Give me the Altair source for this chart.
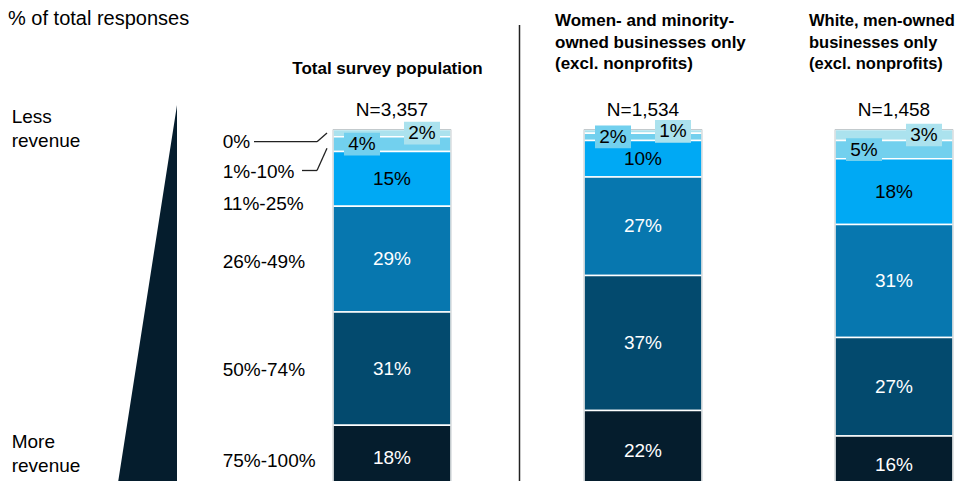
import altair as alt
import pandas as pd

# ---- data ----
categories = ["0%", "1%-10%", "11%-25%", "26%-49%", "50%-74%", "75%-100%"]
groups = ["Total survey population", "Women- and minority-owned", "White, men-owned"]
sample_sizes = ["N=3,357", "N=1,534", "N=1,458"]
total_vals = [2, 4, 15, 29, 31, 18]
women_minority_vals = [1, 2, 10, 27, 37, 22]
white_men_vals = [3, 5, 18, 31, 27, 16]

# ---- styles ----
colors = ["#abe2ee", "#72d0ee", "#00a9f4", "#0777af", "#034a6e", "#051d2d"]
FONT = "Liberation Sans"
DARK = "#051d2d"

rows = []
for g, vals in zip(groups, [total_vals, women_minority_vals, white_men_vals]):
    cum = 0
    for i, (c, v) in enumerate(zip(categories, vals)):
        rows.append({"group": g, "category": c, "idx": i, "value": v,
                     "start": cum, "end": cum + v, "mid": cum + v / 2,
                     "label": f"{v}%",
                     "textcol": "black" if i <= 2 else "white"})
        cum += v
df = pd.DataFrame(rows)
tot = pd.DataFrame({"group": groups, "n": sample_sizes, "zero": 0,
                    "total": [sum(total_vals), sum(women_minority_vals), sum(white_men_vals)]})

W, H = 948, 473
xs = alt.Scale(domain=groups, range=[325, 945], paddingInner=0.5299, paddingOuter=0)
ys = alt.Scale(domain=[-33.29, 96.30], reverse=True)
cs = alt.Scale(domain=categories, range=colors)
X = alt.X("group:N", scale=xs, axis=None)

one = pd.DataFrame({"a": [0]})

def txt(text, x, y, size=19, weight="normal", align="left", baseline="alphabetic", lh=None, color="black"):
    kw = dict(text=text, font=FONT, fontSize=size, fontWeight=weight, align=align,
              baseline=baseline, color=color)
    if lh:
        kw["lineHeight"] = lh
    return alt.Chart(one).mark_text(**kw).encode(x=alt.value(x), y=alt.value(y))

def rule(x1, y1, x2, y2, color="#222222", w=1.3):
    return alt.Chart(one).mark_rule(color=color, strokeWidth=w).encode(
        x=alt.value(x1), x2=alt.value(x2), y=alt.value(y1), y2=alt.value(y2))

# wedge
wedge = alt.Chart(one).mark_point(
    shape="M0.15625,-1L0.15625,1L-0.15625,1Z", size=147456, filled=True,
    fill=DARK, opacity=1, strokeWidth=0).encode(x=alt.value(139), y=alt.value(289))

divider = rule(511.5, 17, 511.5, 481, color="#222222", w=1.5)

bars = alt.Chart(df).mark_bar(stroke="white", strokeWidth=1.5).encode(
    x=X,
    y=alt.Y("start:Q", scale=ys, axis=None),
    y2="end:Q",
    color=alt.Color("category:N", scale=cs, legend=None),
)

outline = alt.Chart(tot).mark_bar(fillOpacity=0, stroke="#c3cacd", strokeWidth=1).encode(
    x=X, y=alt.Y("zero:Q", scale=ys, axis=None), y2="total:Q")

big = df[df.idx >= 2]
big_labels = alt.Chart(big).mark_text(font=FONT, fontSize=19, baseline="middle").encode(
    x=X, y=alt.Y("mid:Q", scale=ys, axis=None), text="label:N",
    color=alt.Color("textcol:N", scale=None))

box_path = "M-1,-0.63L1,-0.63L1,0.63L-1,0.63Z"
small_layers = []
for idx, off in [(0, 30), (1, -30)]:
    sub = df[df.idx == idx]
    small_layers.append(alt.Chart(sub).mark_point(
        shape=box_path, size=1296, filled=True, opacity=1, strokeWidth=0, xOffset=off).encode(
        x=X, y=alt.Y("mid:Q", scale=ys, axis=None),
        color=alt.Color("category:N", scale=cs, legend=None)))
    small_layers.append(alt.Chart(sub).mark_text(
        font=FONT, fontSize=19, baseline="middle", dx=off, color="black").encode(
        x=X, y=alt.Y("mid:Q", scale=ys, axis=None), text="label:N"))

n_labels = alt.Chart(tot).mark_text(font=FONT, fontSize=19, baseline="alphabetic", dy=-13.5,
                                     color="black").encode(
    x=X, y=alt.Y("zero:Q", scale=ys, axis=None), text="n:N")

annotations = [
    txt("% of total responses", 0, 17, size=20),
    txt(["Less", "revenue"], 3.7, 115.3, lh=23.5),
    txt(["More", "revenue"], 3.7, 440, lh=24),
    txt("Total survey population", 379.5, 66, size=17, weight="bold", align="center"),
    txt(["Women- and minority-", "owned businesses only", "(excl. nonprofits)"], 547, 18,
        size=17, weight="bold", lh=21.5),
    txt(["White, men-owned", "businesses only", "(excl. nonprofits)"], 801, 18,
        size=16.5, weight="bold", lh=21.5),
]
cat_baselines = [140.3, 170, 202, 260, 368, 459]
for c, yb in zip(categories, cat_baselines):
    annotations.append(txt(c, 214.7, yb))

leaders = [
    rule(246, 133.7, 309, 133.7), rule(309, 133.7, 319, 125),
    rule(294, 162.5, 309, 162.5), rule(309, 162.5, 319, 140.3),
]

chart = alt.layer(
    wedge, divider, bars, outline, big_labels, *small_layers, n_labels, *annotations, *leaders
).properties(
    width=W, height=H, autosize=alt.AutoSizeParams(type="none"), padding=0
).configure_view(stroke=None)

chart.save("out.html", embed_options={"renderer": "svg", "actions": False})
